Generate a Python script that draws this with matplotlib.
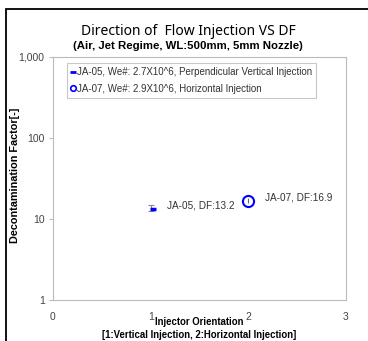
import matplotlib.pyplot as plt
from matplotlib.lines import Line2D
from matplotlib.patches import Rectangle

# data
orient = [1, 2]
df_vals = [13.2, 16.9]
err_lo = [0.6, 1.3]
err_hi = [1.6, 1.3]
labels = ["JA-05, We#: 2.7X10^6, Perpendicular Vertical Injection",
          "JA-07, We#: 2.9X10^6, Horizontal Injection"]
notes = ["JA-05, DF:13.2", "JA-07, DF:16.9"]

plt.rcParams['font.family'] = ['Liberation Sans', 'DejaVu Sans']

fig = plt.figure(figsize=(3.68, 3.41), dpi=100)
fig.patches.append(Rectangle((6.5 / 368, -0.5), 2, 1.5 - 9 / 341, transform=fig.transFigure,
                             fill=False, edgecolor='black', linewidth=1.3))

ax = fig.add_axes([53 / 368, 41 / 341, 293 / 368, 243 / 341])
ax.set_yscale('log')
ax.set_xlim(0, 3)
ax.set_ylim(1, 1000)

# JA-05: short blue dash with a grey error bar
ax.errorbar(orient[0], df_vals[0], yerr=[[err_lo[0]], [err_hi[0]]], fmt='none',
            ecolor='#888888', elinewidth=0.8, capsize=2.5, capthick=0.8)
ax.plot([orient[0] + 0.02], [df_vals[0]], marker='_', color='blue', ms=5, mew=2.5,
        linestyle='none')
# JA-07: open blue circle
ax.errorbar(orient[1], df_vals[1], yerr=[[err_lo[1]], [err_hi[1]]], fmt='o', mfc='none',
            mec='blue', ms=8, mew=1.5, ecolor='#666666', elinewidth=0.8, capsize=0)

ax.annotate(notes[0], (orient[0], df_vals[0]), xytext=(12, 3), textcoords='offset points',
            fontsize=7.2, color='#333333', va='center')
ax.annotate(notes[1], (orient[1], df_vals[1]), xytext=(12, 2), textcoords='offset points',
            fontsize=7.2, color='#333333', va='center')

for s in ax.spines.values():
    s.set_color('#bbbbbb')
    s.set_linewidth(0.8)
ax.set_xticks([0, 1, 2, 3])
ax.set_yticks([1, 10, 100, 1000])
ax.set_yticklabels(['1', '10', '100', '1,000'])
ax.minorticks_off()
ax.tick_params(axis='x', length=0, pad=9, labelsize=7.5, labelcolor='#444444')
ax.tick_params(axis='y', length=3, color='#bbbbbb', pad=3, labelsize=7.5, labelcolor='#444444')

ax.set_ylabel('Decontamination Factor[-]', fontsize=7.8, fontweight='bold')
ax.yaxis.set_label_coords(-33 / 293, 0.515)
ax.set_xlabel('Injector Orientation\n[1:Vertical Injection, 2:Horizontal Injection]',
              fontsize=6.9, fontweight='bold', linespacing=1.35)
ax.xaxis.set_label_coords(0.5, -17 / 243)

fig.text(0.512, 0.907, 'Direction of  Flow Injection VS DF', ha='center', va='center',
         fontsize=10, family=['Noto Sans', 'DejaVu Sans'])
fig.text(0.512, 0.866, '(Air, Jet Regime, WL:500mm, 5mm Nozzle)', ha='center', va='center',
         fontsize=8.2, fontweight='bold')

handles = [Line2D([], [], marker='_', color='blue', ms=4, mew=2, linestyle='none'),
           Line2D([], [], marker='o', mfc='none', mec='blue', ms=4, mew=1.2, linestyle='none')]
leg = ax.legend(handles, labels, loc='upper left', bbox_to_anchor=(0.03, 0.995), fontsize=7,
                frameon=True, fancybox=False, edgecolor='#bbbbbb', handlelength=0.5,
                handletextpad=0.2, borderpad=0.4, labelspacing=0.7)
leg.get_frame().set_linewidth(0.8)
for t in leg.get_texts():
    t.set_color('#333333')

fig.savefig('out.png', dpi=100)
